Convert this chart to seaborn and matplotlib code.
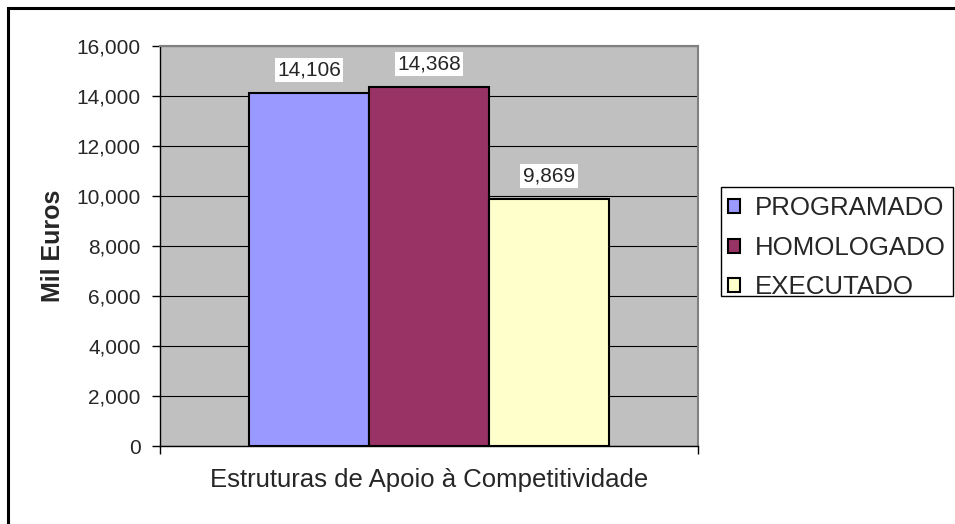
import pandas as pd
import matplotlib
matplotlib.use("Agg")
import matplotlib.pyplot as plt
import matplotlib.patches as mpatches
from matplotlib.ticker import FuncFormatter
import seaborn as sns

# dados do gráfico
categorias = ["Estruturas de Apoio à Competitividade"]
series = ["PROGRAMADO", "HOMOLOGADO", "EXECUTADO"]
valores = [14106, 14368, 9869]
cores = ["#9999FF", "#993366", "#FFFFCC"]
y_ticks = [0, 2000, 4000, 6000, 8000, 10000, 12000, 14000, 16000]

df = pd.DataFrame({
    "categoria": categorias * len(series),
    "serie": series,
    "valor": valores,
})

sns.set_style("white")
plt.rcParams["font.family"] = ["Liberation Sans", "DejaVu Sans"]

fig = plt.figure(figsize=(9.55, 5.24), dpi=100)
ax = fig.add_axes([160 / 955, 1 - 446 / 524, 538 / 955, 400 / 524])
ax.set_facecolor("#C0C0C0")

sns.barplot(data=df, x="categoria", y="valor", hue="serie", hue_order=series,
            palette=cores, width=0.669, edgecolor="black", linewidth=1.5,
            saturation=1, ax=ax)

ax.set_xlim(-0.5, 0.5)
ax.set_ylim(0, 16000)
ax.set_yticks(y_ticks)
ax.yaxis.set_major_formatter(FuncFormatter(lambda v, p: f"{int(v):,}"))
ax.grid(axis="y", color="black", linewidth=0.8)
ax.set_axisbelow(True)

# ticks do eixo x nas bordas, rótulo da categoria ao centro
ax.set_xticks([-0.5, 0.5])
ax.set_xticklabels(["", ""])
ax.set_xticks([0], minor=True)
ax.set_xticklabels(categorias, minor=True, fontsize=18.5)
ax.tick_params(axis="x", which="major", direction="out", length=6, width=1, color="black", bottom=True)
ax.tick_params(axis="x", which="minor", length=0, pad=16)
ax.tick_params(axis="y", direction="out", length=6, width=1, color="black", left=True,
               labelsize=15, pad=8)
ax.set_xlabel("")
ax.set_ylabel("")

for side in ["left", "bottom"]:
    ax.spines[side].set_color("black")
    ax.spines[side].set_linewidth(1)
for side in ["top", "right"]:
    ax.spines[side].set_color("#808080")
    ax.spines[side].set_linewidth(1.5)

# rótulos de dados
for cont in ax.containers:
    for bar in cont:
        h = bar.get_height()
        ax.annotate(f"{int(h):,}", (bar.get_x() + bar.get_width() / 2, h),
                    xytext=(0, 16.5), textcoords="offset points",
                    ha="center", va="center", fontsize=15,
                    bbox=dict(boxstyle="square,pad=0.12", fc="white", ec="none"))

fig.text(53 / 955, 1 - 246 / 524, "Mil Euros", rotation=90, ha="center", va="center",
         fontsize=18, fontweight="bold")

ax.get_legend().remove()
handles = [mpatches.Patch(facecolor=c, edgecolor="black", linewidth=1.5) for c in cores]
leg = fig.legend(handles, series, loc="upper left", bbox_to_anchor=(718 / 955, 1 - 186 / 524),
                 fontsize=18.6, frameon=False,
                 handlelength=0.46, handleheight=0.46, handletextpad=0.55,
                 labelspacing=0.6, borderpad=0.4, borderaxespad=0)

# caixa da legenda
fig.patches.append(mpatches.Rectangle((721 / 955, 1 - 296 / 524), 232 / 955, 109 / 524,
                                      transform=fig.transFigure, fill=False,
                                      edgecolor="black", linewidth=1))

# moldura da área do gráfico
fig.patches.append(mpatches.Rectangle((8 / 955, -0.1), 2, 1.1 - 8 / 524, transform=fig.transFigure,
                                      fill=False, edgecolor="black", linewidth=2.2))

fig.savefig("out.png", dpi=100)
